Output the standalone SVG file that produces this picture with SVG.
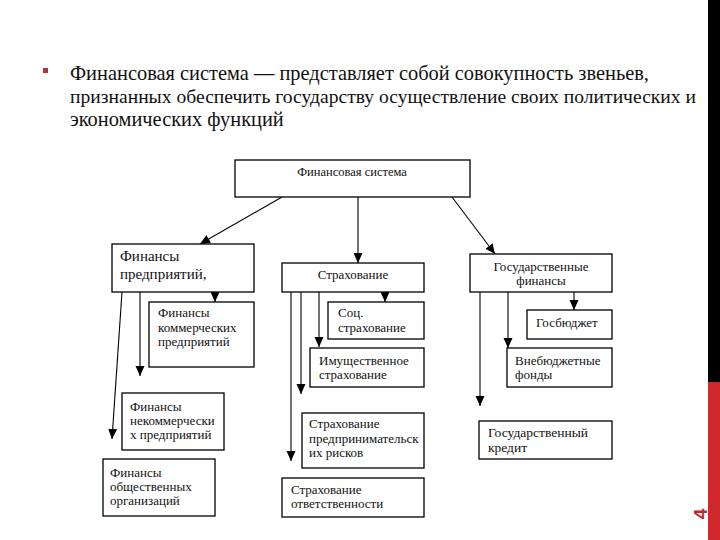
<svg xmlns="http://www.w3.org/2000/svg" width="720" height="540" viewBox="0 0 720 540">
<style>
.box{fill:#fff;stroke:#000;stroke-width:1.3}
.ln{fill:none;stroke:#000;stroke-width:1.1}
</style>
<defs>
<marker id="ah" markerUnits="userSpaceOnUse" markerWidth="10" markerHeight="10" viewBox="0 0 10 10" refX="10" refY="5" orient="auto">
<path d="M0,0.5 L10,5 L0,9.5 Z" fill="#000"/>
</marker>
</defs>
<rect width="720" height="540" fill="#fff"/>
<rect x="43" y="68" width="5" height="5" fill="#b8303c"/>
<g font-family="Liberation Serif, Times New Roman, serif" font-size="20.4" fill="#111">
<text x="70" y="80">Финансовая система — представляет собой совокупность звеньев,</text>
<text x="70" y="103" font-size="19.6" textLength="626" lengthAdjust="spacingAndGlyphs">признанных обеспечить государству осуществление своих политических и</text>
<text x="70" y="126">экономических функций</text>
</g>
<g id="connectors">
<line class="ln" x1="282" y1="197" x2="200" y2="244" marker-end="url(#ah)"/>
<line class="ln" x1="358" y1="197" x2="358" y2="263" marker-end="url(#ah)"/>
<line class="ln" x1="452" y1="197" x2="495" y2="254" marker-end="url(#ah)"/>
<line class="ln" x1="122" y1="292" x2="112" y2="439" marker-end="url(#ah)"/>
<line class="ln" x1="140" y1="292" x2="140" y2="376" marker-end="url(#ah)"/>
<line class="ln" x1="215" y1="292" x2="215" y2="302" marker-end="url(#ah)"/>
<line class="ln" x1="291" y1="292" x2="291" y2="461" marker-end="url(#ah)"/>
<line class="ln" x1="301" y1="292" x2="301" y2="394" marker-end="url(#ah)"/>
<line class="ln" x1="319" y1="292" x2="319" y2="347" marker-end="url(#ah)"/>
<line class="ln" x1="385" y1="292" x2="385" y2="302" marker-end="url(#ah)"/>
<line class="ln" x1="480" y1="292" x2="480" y2="406" marker-end="url(#ah)"/>
<line class="ln" x1="508" y1="292" x2="508" y2="348" marker-end="url(#ah)"/>
<line class="ln" x1="574" y1="292" x2="574" y2="310" marker-end="url(#ah)"/>
</g>
<g font-family="Liberation Serif, Times New Roman, serif" font-size="13" fill="#111">
<g id="n-fin-sys"><rect class="box" x="235" y="160" width="235" height="37"/><text text-anchor="middle" x="352" y="176" font-size="12.5">Финансовая система</text></g>
<g id="n-fin-pred"><rect class="box" x="112" y="244" width="142" height="48"/><text x="120" y="261" font-size="15">Финансы</text><text x="120" y="279" font-size="15">предприятий,</text></g>
<g id="n-strah"><rect class="box" x="282" y="263" width="142" height="29"/><text text-anchor="middle" x="353" y="279">Страхование</text></g>
<g id="n-gos-fin"><rect class="box" x="470" y="254" width="142" height="38"/><text text-anchor="middle" x="541" y="271">Государственные</text><text text-anchor="middle" x="541" y="285">финансы</text></g>
<g id="n-komm"><rect class="box" x="149" y="302" width="105" height="65"/><text x="158" y="317">Финансы</text><text x="158" y="332">коммерческих</text><text x="158" y="346">предприятий</text></g>
<g id="n-nekomm"><rect class="box" x="122" y="393" width="102" height="57"/><text x="130" y="411">Финансы</text><text x="130" y="425">некоммерчески</text><text x="130" y="439">х предприятий</text></g>
<g id="n-obsh"><rect class="box" x="103" y="459" width="112" height="57"/><text x="110" y="477">Финансы</text><text x="110" y="491">общественных</text><text x="110" y="505">организаций</text></g>
<g id="n-soc"><rect class="box" x="328" y="302" width="96" height="37"/><text x="338" y="317">Соц.</text><text x="338" y="332">страхование</text></g>
<g id="n-imush"><rect class="box" x="310" y="348" width="114" height="39"/><text x="319" y="365">Имущественное</text><text x="319" y="379">страхование</text></g>
<g id="n-predpr"><rect class="box" x="302" y="413" width="122" height="55"/><text x="309" y="428">Страхование</text><text x="309" y="443">предпринимательск</text><text x="309" y="457">их рисков</text></g>
<g id="n-otv"><rect class="box" x="282" y="478" width="142" height="39"/><text x="291" y="494">Страхование</text><text x="291" y="508">ответственности</text></g>
<g id="n-gosbud"><rect class="box" x="527" y="310" width="85" height="29"/><text x="536" y="327">Госбюджет</text></g>
<g id="n-vneb"><rect class="box" x="507" y="348" width="105" height="39"/><text x="515" y="365">Внебюджетные</text><text x="515" y="379">фонды</text></g>
<g id="n-goscred"><rect class="box" x="479" y="421" width="133" height="38"/><text x="488" y="437" font-size="13.5">Государственный</text><text x="488" y="452" font-size="13.5">кредит</text></g>
</g>
<rect x="708" y="0" width="12" height="382" fill="#000"/>
<rect x="708" y="382" width="12" height="158" fill="#d0282c"/>
<text x="0" y="0" transform="translate(707,514) rotate(-90)" font-family="Liberation Sans, Arial, sans-serif" font-size="19" font-weight="bold" fill="#c0282d" text-anchor="middle">4</text>
</svg>
